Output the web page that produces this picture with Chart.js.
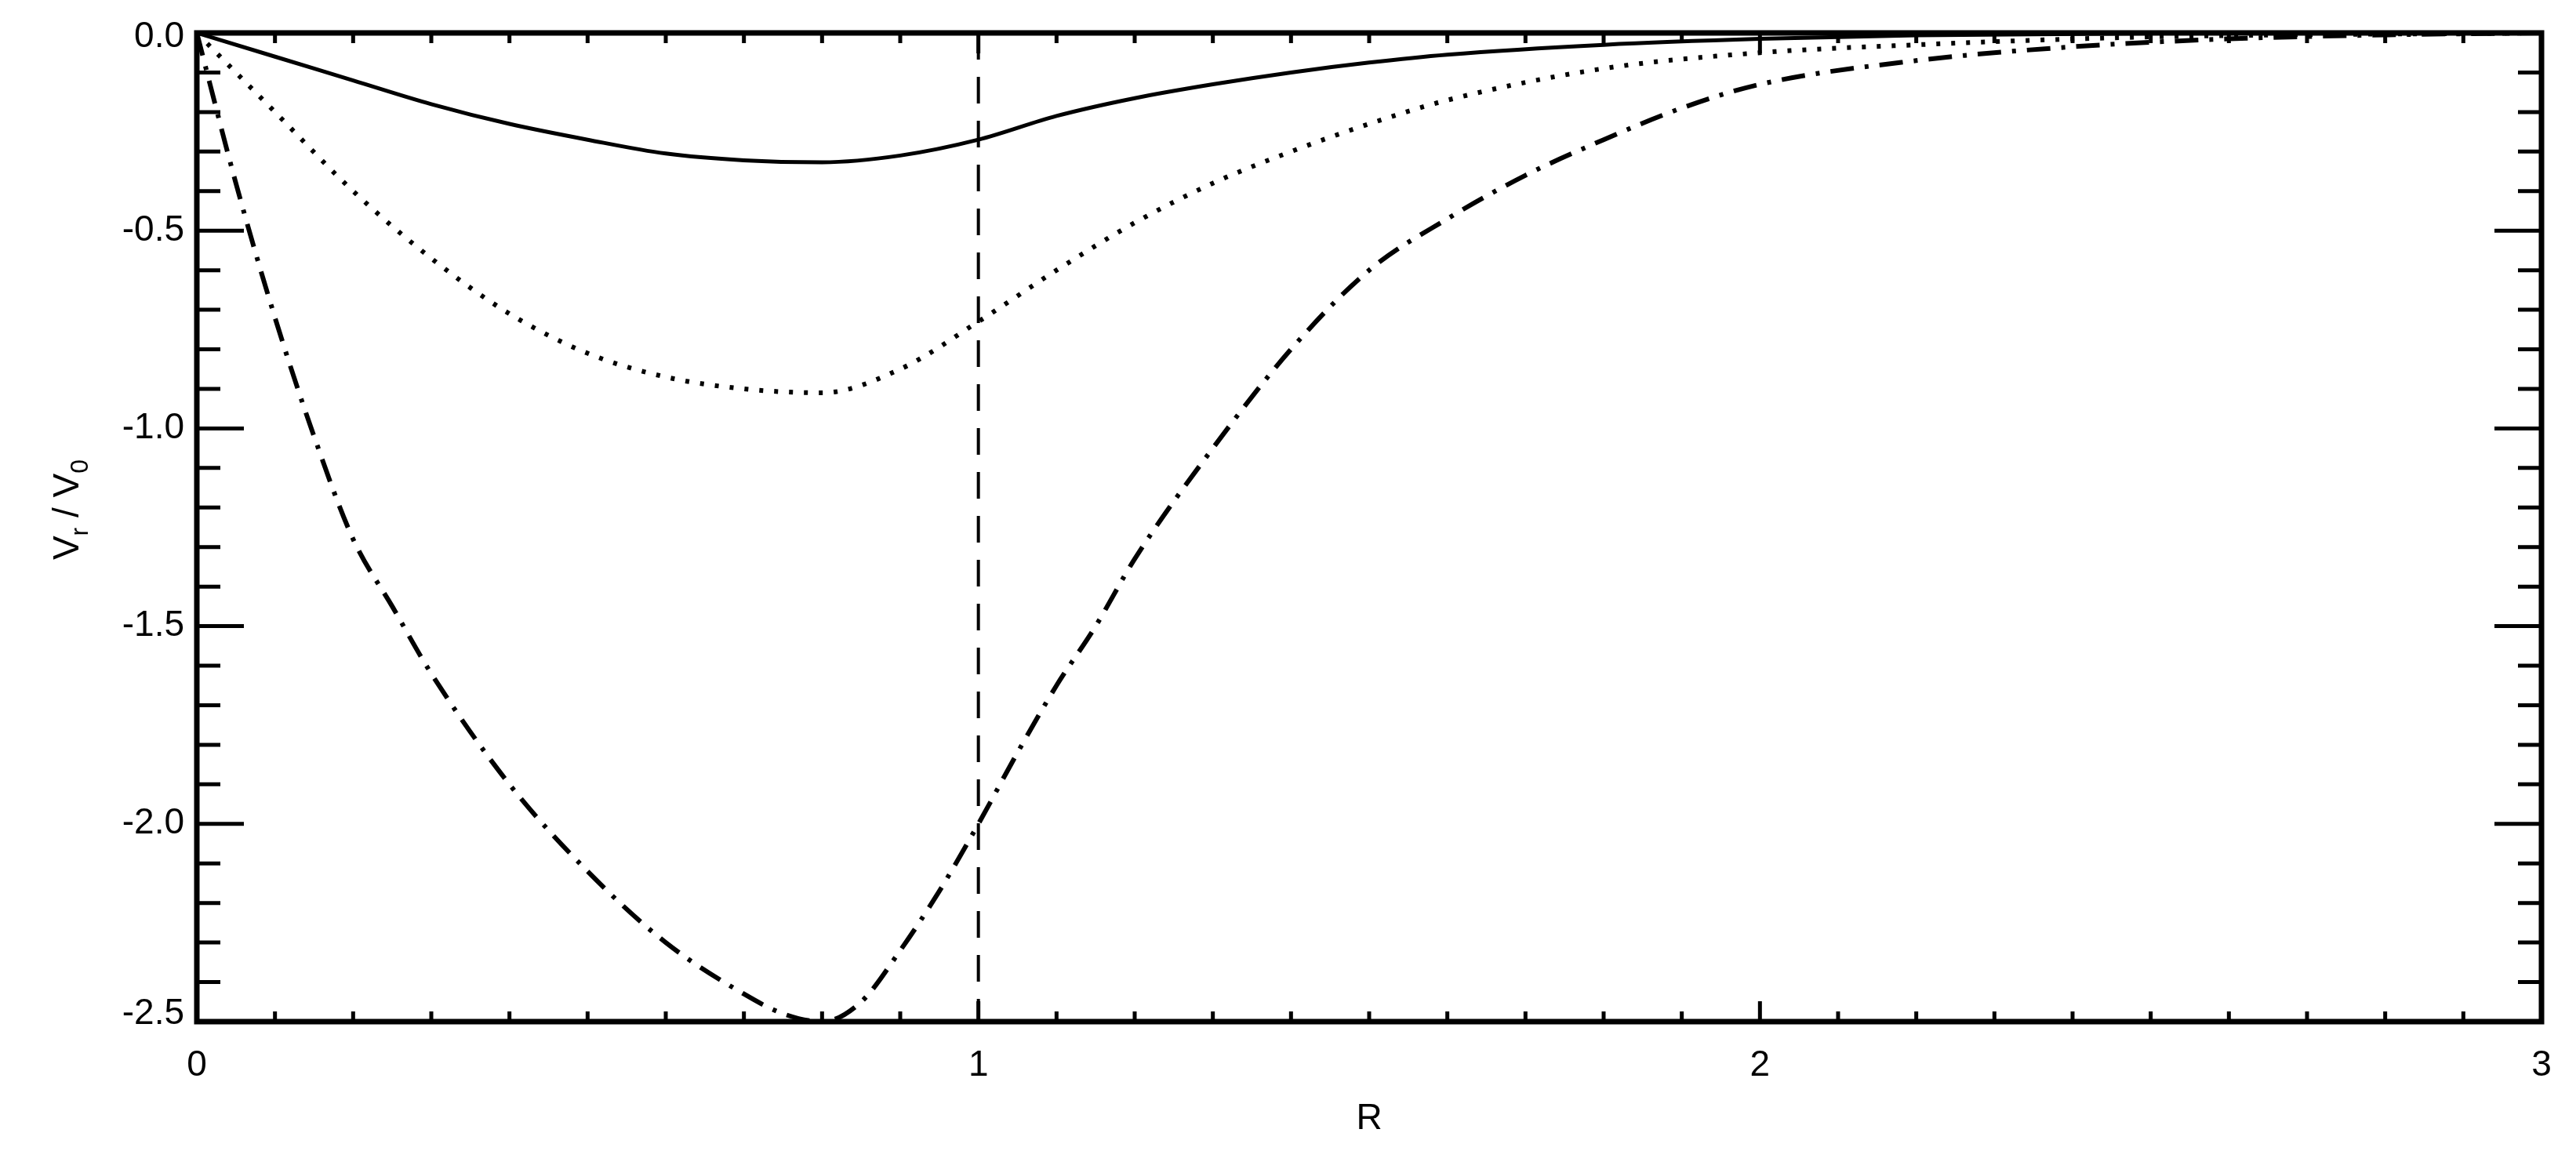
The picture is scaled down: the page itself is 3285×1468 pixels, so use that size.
<!DOCTYPE html>
<html><head><meta charset="utf-8">
<script src="https://cdn.jsdelivr.net/npm/chart.js@4"></script>
<style>html,body{margin:0;padding:0;background:#fff}canvas{display:block}</style>
</head><body>
<div style="width:3285px;height:1468px"><canvas id="c"></canvas></div>
<script>
const xTicks=[0,1,2,3];
const yTicks=[0.0,-0.5,-1.0,-1.5,-2.0,-2.5];
const yTickLabels=["0.0","-0.5","-1.0","-1.5","-2.0","-2.5"];
const solidR=[0,0.1,0.2,0.3,0.4,0.5,0.6,0.7,0.8,0.9,1.0,1.1,1.2,1.3,1.4,1.5,1.6,1.8,2.0,2.2,2.5,3.0];
const solidV=[0,-0.06,-0.12,-0.18,-0.23,-0.27,-0.305,-0.322,-0.327,-0.31,-0.27,-0.21,-0.165,-0.13,-0.1,-0.075,-0.055,-0.03,-0.015,-0.006,-0.001,0];
const dotR=[0,0.1,0.2,0.3,0.4,0.5,0.6,0.7,0.8,0.9,1.0,1.1,1.2,1.3,1.4,1.5,1.6,1.8,2.0,2.2,2.5,3.0];
const dotV=[0,-0.2,-0.4,-0.57,-0.71,-0.81,-0.87,-0.9,-0.91,-0.85,-0.73,-0.6,-0.48,-0.38,-0.3,-0.23,-0.17,-0.09,-0.05,-0.03,-0.01,0];
const ddR=[0,0.05,0.1,0.15,0.2,0.25,0.3,0.4,0.5,0.6,0.7,0.75,0.8,0.85,0.9,0.95,1.0,1.05,1.1,1.15,1.2,1.3,1.4,1.5,1.6,1.7,1.8,1.9,2.0,2.2,2.4,2.6,2.8,3.0];
const ddV=[0,-0.38,-0.72,-1.02,-1.28,-1.45,-1.62,-1.9,-2.12,-2.3,-2.43,-2.48,-2.5,-2.45,-2.32,-2.17,-2.0,-1.82,-1.65,-1.5,-1.33,-1.05,-0.8,-0.6,-0.47,-0.36,-0.27,-0.19,-0.13,-0.07,-0.035,-0.015,-0.005,0];
const vlineR=[1,1];
const vlineV=[0,-2.5];
const pts=(a,b)=>a.map((x,i)=>({x:x,y:b[i]}));
const FONT='"Liberation Sans", Arial, sans-serif';
const frame={id:'frame',afterDraw(ch){
  const c=ch.ctx,a=ch.chartArea,xs=ch.scales.x,ys=ch.scales.y;
  c.save();c.strokeStyle='#000';c.fillStyle='#000';c.lineCap='butt';
  c.lineWidth=7;c.strokeRect(a.left,a.top,a.right-a.left,a.bottom-a.top);
  c.lineWidth=5;
  for(let i=0;i<=30;i++){const v=i/10,p=xs.getPixelForValue(v);const L=(i%10===0)?26:13;
    c.beginPath();c.moveTo(p,a.bottom);c.lineTo(p,a.bottom-L);c.moveTo(p,a.top);c.lineTo(p,a.top+L);c.stroke();}
  for(let i=0;i<=25;i++){const v=-i/10,p=ys.getPixelForValue(v);const L=(i%5===0)?60:30;
    c.beginPath();c.moveTo(a.left,p);c.lineTo(a.left+L,p);c.moveTo(a.right,p);c.lineTo(a.right-L,p);c.stroke();}
  c.font='46px '+FONT;c.textAlign='right';c.textBaseline='middle';
  yTicks.forEach((v,i)=>{let p=ys.getPixelForValue(v);if(i===0)p+=5;if(i===yTicks.length-1)p-=10;c.fillText(yTickLabels[i],a.left-16,p);});
  c.textAlign='center';c.textBaseline='top';
  xTicks.forEach(v=>c.fillText(String(v),xs.getPixelForValue(v),1336));
  c.fillText('R',(a.left+a.right)/2,1404);
  c.translate(84,650);c.rotate(-Math.PI/2);c.textBaseline='alphabetic';
  const parts=[['V',0,46],['r',12,32],[' / V',0,46],['0',12,32]];
  let w=0;parts.forEach(p=>{c.font=p[2]+'px '+FONT;w+=c.measureText(p[0]).width;});
  let x=-w/2;c.textAlign='left';
  parts.forEach(p=>{c.font=p[2]+'px '+FONT;c.fillText(p[0],x,16+p[1]);x+=c.measureText(p[0]).width;});
  c.restore();}};
new Chart(document.getElementById('c'),{type:'line',
 data:{datasets:[
  {data:pts(solidR,solidV),borderColor:'#000',borderWidth:5,pointRadius:0,cubicInterpolationMode:'monotone'},
  {data:pts(dotR,dotV),borderColor:'#000',borderWidth:6,borderDash:[5,14],pointRadius:0,cubicInterpolationMode:'monotone'},
  {data:pts(ddR,ddV),borderColor:'#000',borderWidth:6,borderDash:[30,14,5,14],pointRadius:0,cubicInterpolationMode:'monotone'},
  {data:pts(vlineR,vlineV),borderColor:'#000',borderWidth:4,borderDash:[34,22],pointRadius:0}
 ]},
 options:{responsive:true,maintainAspectRatio:false,animation:false,
  layout:{padding:{left:251,top:42,right:44,bottom:165}},
  plugins:{legend:{display:false},tooltip:{enabled:false}},
  scales:{x:{type:'linear',min:0,max:3,display:false},y:{type:'linear',min:-2.5,max:0,display:false}}},
 plugins:[frame]});
</script></body></html>
